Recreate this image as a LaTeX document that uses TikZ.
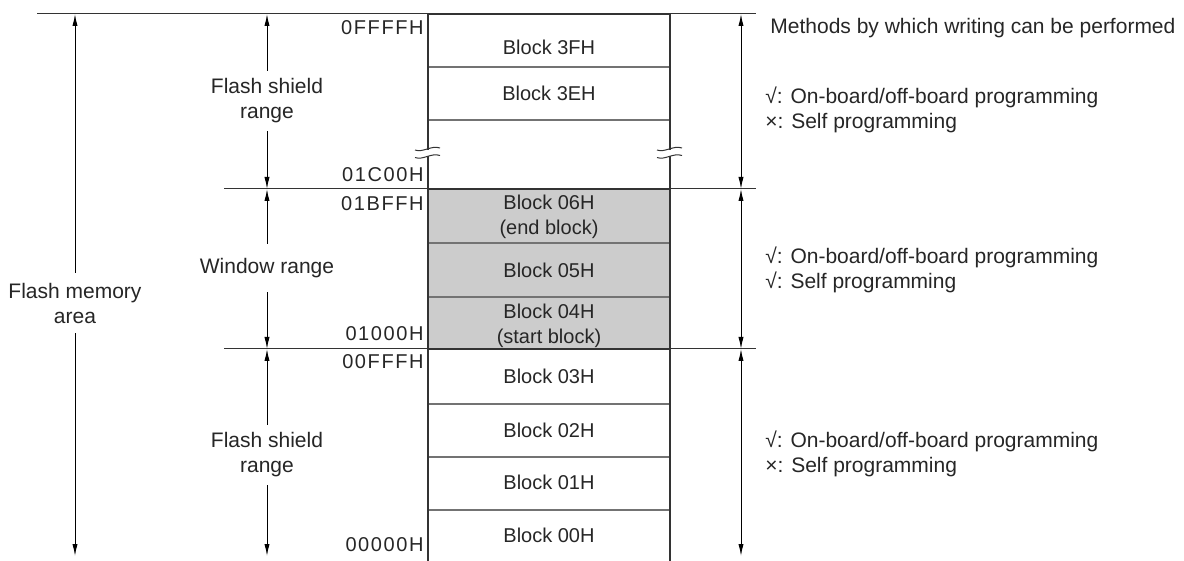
\documentclass[tikz,border=0pt]{standalone}
\usepackage{fontspec}
\setmainfont{Liberation Sans}
\usetikzlibrary{arrows.meta}
\begin{document}
\begin{tikzpicture}[x=0.5pt,y=-0.5pt,
  every node/.style={text=black!85},
  thinline/.style={line width=0.5pt, draw=black!80},
  wall/.style={line width=1.4pt, draw=black!80},
  sepline/.style={line width=0.6pt, draw=black!55},
  dim/.style={line width=0.5pt, draw=black, {Latex[length=6pt,width=2.6pt]}-{Latex[length=6pt,width=2.6pt]}},
  blk/.style={font=\fontsize{10}{12.5}\selectfont, align=center, inner sep=0pt},
  addr/.style={anchor=east, inner sep=0pt, font=\fontsize{10}{12}\selectfont\addfontfeatures{LetterSpace=8}},
  lbl/.style={fill=white, align=center, font=\fontsize{10.5}{12.5}\selectfont, inner xsep=1pt, inner ysep=4pt},
  note/.style={anchor=west, align=left, inner sep=0pt, font=\fontsize{10.5}{12.5}\selectfont},
  wave/.style={line width=0.5pt, draw=black!80},
  gap/.style={fill=white, draw=none}]
\useasboundingbox (0,0) rectangle (1184,561);

% ---- coordinates
\coordinate (Ltop) at (37,14);
\coordinate (BTL) at (428,14);
\coordinate (BTR) at (670,14);
\coordinate (Rtop) at (756,14);
\coordinate (L1) at (224,189);
\coordinate (B1L) at (428,189);
\coordinate (B1R) at (670,189);
\coordinate (R1) at (756,189);
\coordinate (L2) at (224,349);
\coordinate (B2L) at (428,349);
\coordinate (B2R) at (670,349);
\coordinate (R2) at (756,349);
\coordinate (BBL) at (428,565);
\coordinate (BBR) at (670,565);

% ---- window fill
\fill[black!20] (B1L) rectangle (B2R);

% ---- block separators
\foreach \yy in {67,120,243,297,404,457,510}
  \draw[sepline] (428,\yy) -- (670,\yy);

% ---- extension lines
\draw[thinline] (Ltop) -- (BTL);
\draw[thinline] (BTR) -- (Rtop);
\draw[thinline] (L1) -- (B1L);
\draw[thinline] (B1R) -- (R1);
\draw[thinline] (L2) -- (B2L);
\draw[thinline] (B2R) -- (R2);

% ---- box walls
\draw[wall] (BBL) -- (BTL) -- (BTR) -- (BBR);
\draw[wall] (B1L) -- (B1R);
\draw[wall] (B2L) -- (B2R);

% ---- break marks
\foreach \xx in {428,670}{
  \fill[gap] (\xx-3,150) rectangle (\xx+3,156);
  \draw[wave] (\xx-13,150) .. controls (\xx-5,153) and (\xx+3,145) .. (\xx+12,148);
  \draw[wave] (\xx-13,157.5) .. controls (\xx-5,160.5) and (\xx+3,152.5) .. (\xx+12,155.5);
}

% ---- blocks
\node[blk] (b3f) at (549,47) {Block 3FH};
\node[blk] (b3e) at (549,93) {Block 3EH};
\node[blk] (b06) at (549,217) {Block 06H\\(end block)};
\node[blk] (b05) at (549,270) {Block 05H};
\node[blk] (b04) at (549,326) {Block 04H\\(start block)};
\node[blk] (b03) at (549,376) {Block 03H};
\node[blk] (b02) at (549,430) {Block 02H};
\node[blk] (b01) at (549,482) {Block 01H};
\node[blk] (b00) at (549,535) {Block 00H};

% ---- addresses
\node[addr] (a1) at (424,28) {0FFFFH};
\node[addr] (a2) at (424,175) {01C00H};
\node[addr] (a3) at (424,204) {01BFFH};
\node[addr] (a4) at (424,334) {01000H};
\node[addr] (a5) at (424,362) {00FFFH};
\node[addr] (a6) at (424,545) {00000H};

% ---- arrow end points
\coordinate (fT) at (75,14);   \coordinate (fB) at (75,556);
\coordinate (sT) at (267,14);  \coordinate (s1) at (267,189);
\coordinate (s2) at (267,349); \coordinate (sB) at (267,556);
\coordinate (rT) at (741,14);  \coordinate (r1) at (741,189);
\coordinate (r2) at (741,349); \coordinate (rB) at (741,556);

\draw[dim] (fT) -- (fB);
\draw[dim] (sT) -- (s1);
\draw[dim] (s1) -- (s2);
\draw[dim] (s2) -- (sB);
\draw[dim] (rT) -- (r1);
\draw[dim] (r1) -- (r2);
\draw[dim] (r2) -- (rB);

% ---- left labels
\node[lbl] (fsu) at (267,101) {Flash shield\\range};
\node[lbl, inner ysep=7pt] (win) at (267,268) {Window range};
\node[lbl, inner ysep=5pt] (fma) at (75,303) {Flash memory\\area};
\node[lbl] (fsl) at (267,455) {Flash shield\\range};

% ---- notes
\node[note] (hdr) at (770,28) {Methods by which writing can be performed};
\node[note] (n1) at (765,110) {√: On-board/off-board programming\\×: Self programming};
\node[note] (n2) at (765,270) {√: On-board/off-board programming\\√: Self programming};
\node[note] (n3) at (765,454) {√: On-board/off-board programming\\×: Self programming};
\end{tikzpicture}
\end{document}
